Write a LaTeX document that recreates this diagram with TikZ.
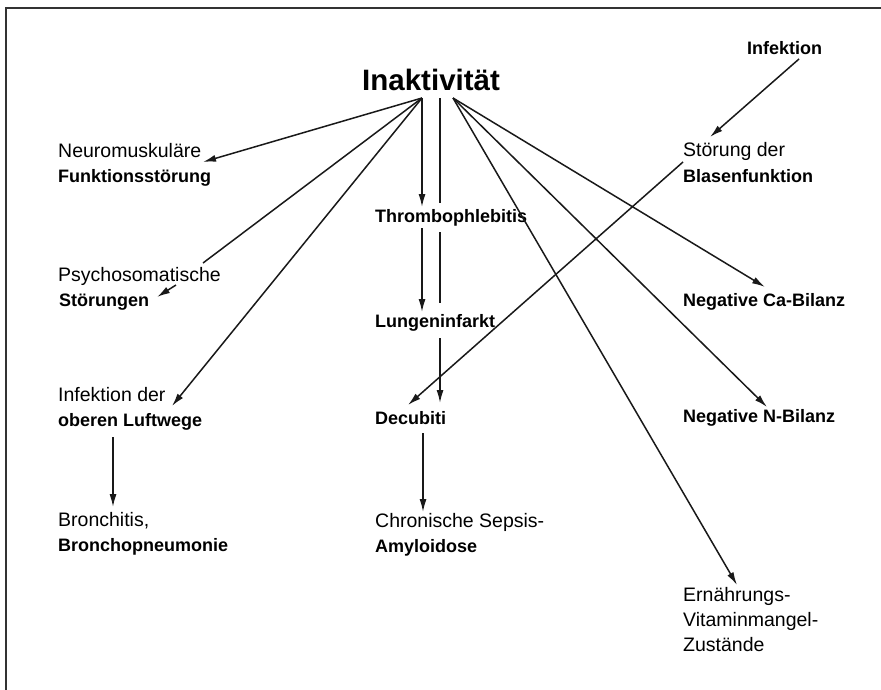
\documentclass[tikz,border=0pt]{standalone}
\usepackage{fontspec}
\setmainfont{Liberation Sans}
\usetikzlibrary{arrows.meta}
\begin{document}
\begin{tikzpicture}[x=1pt,y=-1pt,
  lbl/.style={anchor=base west, inner sep=0pt, font=\fontsize{19.5}{25}\selectfont},
  blbl/.style={anchor=base west, inner sep=0pt, font=\fontsize{18}{25}\selectfont\bfseries},
  conn/.style={line width=1.5pt, draw=black!90},
  arr/.style={conn, -{Latex[length=13pt,width=7pt]}},
  frameline/.style={line width=1.8pt, draw=black!80, line cap=rect}]
\useasboundingbox (0,0) rectangle (881,689);
% frame
\coordinate (fbl) at (6,689);
\coordinate (ftl) at (6,8);
\coordinate (ftr) at (881,8);
\draw[frameline] (fbl) -- (ftl) -- (ftr);

% texts
\node[anchor=base west, inner sep=0pt, font=\fontsize{29.5}{30}\selectfont\bfseries] (inak) at (362,90) {Inaktivität};
\node[blbl] (infekt) at (747,54) {Infektion};
\node[lbl] (neuroA) at (58,157) {Neuromuskuläre};
\node[blbl] (neuroB) at (58,182) {Funktionsstörung};
\node[lbl] (psychA) at (58,281) {Psychosomatische};
\node[blbl] (psychB) at (59,306) {Störungen};
\node[lbl] (infA) at (58,401) {Infektion der};
\node[blbl] (infB) at (58,426) {oberen Luftwege};
\node[lbl] (bronA) at (58,526) {Bronchitis,};
\node[blbl] (bronB) at (58,551) {Bronchopneumonie};
\node[blbl] (thrombo) at (375,222) {Thrombophlebitis};
\node[blbl] (lungen) at (375,327) {Lungeninfarkt};
\node[blbl] (decub) at (375,424) {Decubiti};
\node[lbl] (sepsisA) at (375,527) {Chronische Sepsis-};
\node[blbl] (sepsisB) at (375,552) {Amyloidose};
\node[lbl] (blaseA) at (683,156) {Störung der};
\node[blbl] (blaseB) at (683,182) {Blasenfunktion};
\node[blbl] (ca) at (683,306) {Negative Ca-Bilanz};
\node[blbl] (nbil) at (683,422) {Negative N-Bilanz};
\node[lbl] (ernA) at (683,601) {Ernährungs-};
\node[lbl] (ernB) at (683,626) {Vitaminmangel-};
\node[lbl] (ernC) at (683,651) {Zustände};

% connector points
\coordinate (fanL) at (422,98);
\coordinate (fanM) at (440,98);
\coordinate (fanR) at (453,98);
\coordinate (neuroT) at (203,162);
\coordinate (psychG1) at (203,263);
\coordinate (psychG2) at (176,285);
\coordinate (psychT) at (157,297);
\coordinate (infT) at (172,406);
\coordinate (thrT) at (422,207);
\coordinate (thrS) at (422,228);
\coordinate (lunT) at (422,312);
\coordinate (vA) at (440,203);
\coordinate (vB) at (440,232);
\coordinate (vC) at (440,303);
\coordinate (vD) at (440,338);
\coordinate (decT) at (440,403);
\coordinate (bronS) at (113,437);
\coordinate (bronT) at (113,507);
\coordinate (decS) at (423,433);
\coordinate (sepT) at (423,512);
\coordinate (infkS) at (799,59);
\coordinate (blaT) at (710,137);
\coordinate (blaS) at (683,162);
\coordinate (decT2) at (408,405);
\coordinate (caT) at (765,287);
\coordinate (nT) at (767,407);
\coordinate (ernT) at (737,585);

% left fan
\draw[arr] (fanL) -- (neuroT);
\draw[conn] (fanL) -- (psychG1);
\draw[arr] (psychG2) -- (psychT);
\draw[arr] (fanL) -- (infT);
\draw[arr] (fanL) -- (thrT);
\draw[arr] (thrS) -- (lunT);
% middle vertical
\draw[conn] (fanM) -- (vA);
\draw[conn] (vB) -- (vC);
\draw[arr] (vD) -- (decT);
% right fan
\draw[arr] (fanR) -- (caT);
\draw[arr] (fanR) -- (nT);
\draw[arr] (fanR) -- (ernT);
% others
\draw[arr] (bronS) -- (bronT);
\draw[arr] (decS) -- (sepT);
\draw[arr] (infkS) -- (blaT);
\draw[arr] (blaS) -- (decT2);
\end{tikzpicture}
\end{document}
